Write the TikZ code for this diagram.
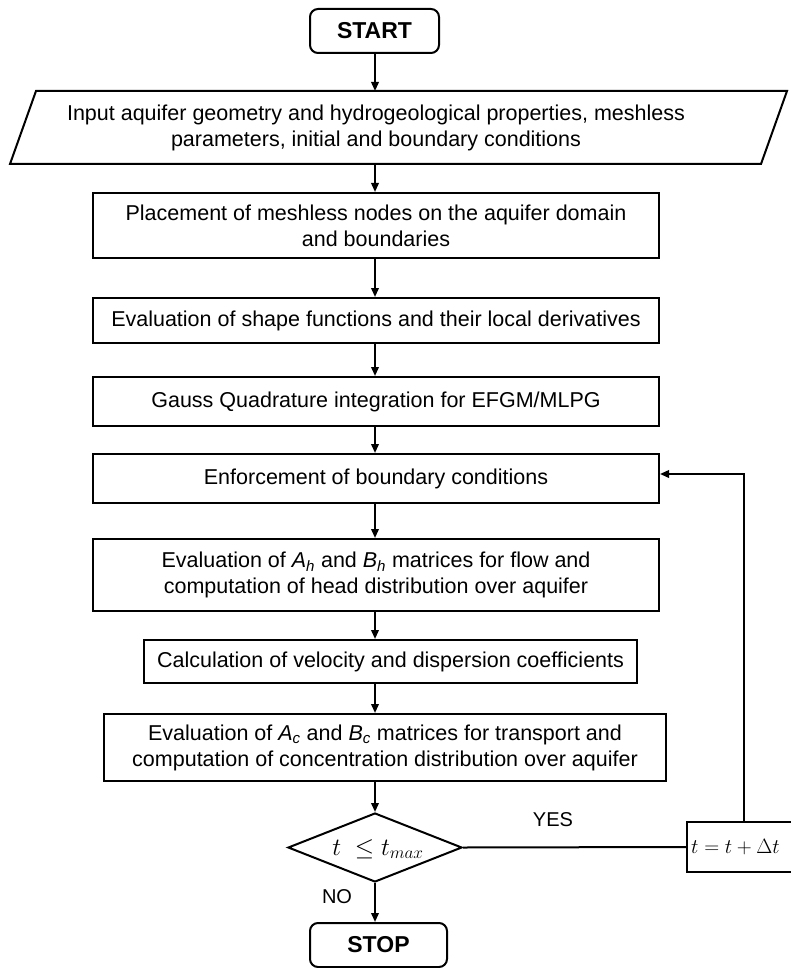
\documentclass[tikz,border=0pt]{standalone}
\usepackage{fontspec}
\setmainfont{Liberation Sans}
\usetikzlibrary{arrows.meta,shapes.geometric}
\begin{document}
\begin{tikzpicture}[x=1pt,y=-1pt,
  every node/.style={font=\fontsize{21.5}{26}\selectfont},
  ln/.style={line width=2pt,line join=miter},
  arr/.style={ln,-{Triangle[length=9pt,width=7.5pt]}},
  procbox/.style={ln,draw,rectangle,inner sep=0pt,align=center},
  termbox/.style={ln,draw,rectangle,rounded corners=8pt,inner sep=0pt,font=\fontsize{23}{26}\selectfont\bfseries},
  lbl/.style={inner sep=0pt},
  mathlbl/.style={inner sep=0pt,font=\fontsize{24}{28}\selectfont}]
\useasboundingbox (0,0) rectangle (790,968);
% START
\node[termbox,minimum width=129pt,minimum height=44pt] (start) at (374.5,31) {START};
% input parallelogram
\coordinate (inTL) at (36,91);
\coordinate (inTR) at (787,91);
\coordinate (inBR) at (761,164);
\coordinate (inBL) at (10,164);
\draw[ln] (inTL) -- (inTR) -- (inBR) -- (inBL) -- cycle;
\node[align=center,inner sep=0pt] (input) at (376,127.5) {Input aquifer geometry and hydrogeological properties, meshless\\parameters, initial and boundary conditions};
\coordinate (inTop) at (375,91);
\coordinate (inBot) at (375,164);
% process boxes
\node[procbox,minimum width=566pt,minimum height=65pt] (b2) at (376,225.5) {Placement of meshless nodes on the aquifer domain\\and boundaries};
\node[procbox,minimum width=566pt,minimum height=45pt] (b3) at (376,320.5) {Evaluation of shape functions and their local derivatives};
\node[procbox,minimum width=566pt,minimum height=49pt] (b4) at (376,401.5) {Gauss Quadrature integration for EFGM/MLPG};
\node[procbox,minimum width=566pt,minimum height=49pt] (b5) at (376,478.5) {Enforcement of boundary conditions};
\node[procbox,minimum width=566pt,minimum height=72pt] (b6) at (376,575) {Evaluation of \textit{A}\textsubscript{\textit{h}} and \textit{B}\textsubscript{\textit{h}} matrices for flow and\\computation of head distribution over aquifer};
\node[procbox,minimum width=493pt,minimum height=43pt] (b7) at (390.5,661.5) {Calculation of velocity and dispersion coefficients};
\node[procbox,minimum width=562pt,minimum height=67pt] (b8) at (385,747.5) {Evaluation of \textit{A}\textsubscript{\textit{c}} and \textit{B}\textsubscript{\textit{c}} matrices for transport and\\computation of concentration distribution over aquifer};
% decision
\node[ln,draw,diamond,aspect=2.52,minimum width=174pt,minimum height=69pt,inner sep=0pt] (dec) at (375,847.5) {};
\node[mathlbl] (dectext) at (378,849) {$t\ \leq t_{max}$};
% increment
\node[procbox,minimum width=108pt,minimum height=50pt,anchor=west] (inc) at (686,847) {};
\node[inner sep=0pt,font=\fontsize{20.5}{24}\selectfont,anchor=west] (inctext) at (691,847) {$t=t+\Delta t$};
% STOP
\node[termbox,minimum width=137pt,minimum height=44pt] (stop) at (378.5,945) {STOP};
% labels
\node[lbl,font=\fontsize{20}{24}\selectfont] (yes) at (553,820) {YES};
\node[lbl,font=\fontsize{20}{24}\selectfont] (no) at (337,897) {NO};
% connectors
\draw[arr] (start.south -| 375,0) -- (inTop);
\draw[arr] (inBot) -- (b2.north -| 375,0);
\draw[arr] (b2.south -| 375,0) -- (b3.north -| 375,0);
\draw[arr] (b3.south -| 375,0) -- (b4.north -| 375,0);
\draw[arr] (b4.south -| 375,0) -- (b5.north -| 375,0);
\draw[arr] (b5.south -| 375,0) -- (b6.north -| 375,0);
\draw[arr] (b6.south -| 375,0) -- (b7.north -| 375,0);
\draw[arr] (b7.south -| 375,0) -- (b8.north -| 375,0);
\draw[arr] (b8.south -| 375,0) -- (dec.north);
\draw[arr] (dec.south) -- (stop.north -| 375,0);
\draw[ln] (dec.east) -- (inc.west);
\coordinate (bend) at (744,474);
\draw[arr] (inc.north -| bend) -- (bend) -- (b5.east |- bend);
\end{tikzpicture}
\end{document}
